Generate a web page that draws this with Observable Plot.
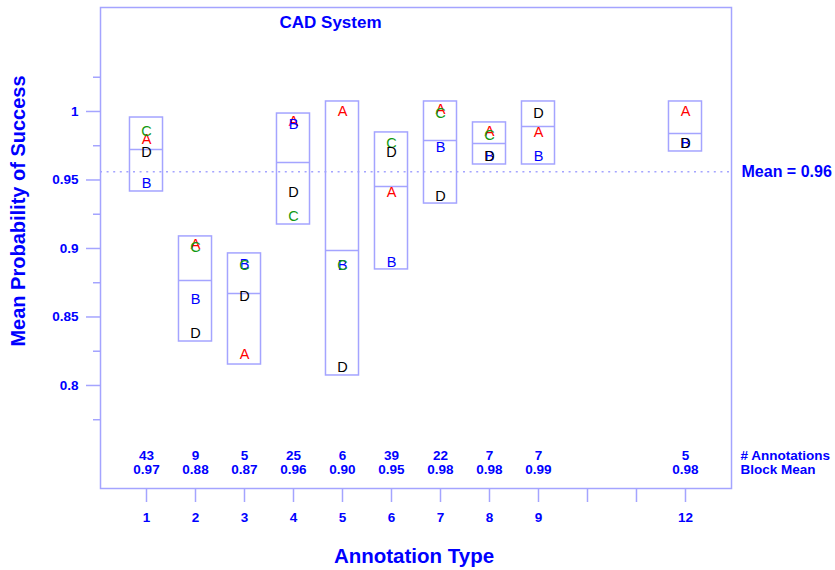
<!DOCTYPE html>
<html>
<head>
<meta charset="utf-8">
<script src="https://cdn.jsdelivr.net/npm/d3@7"></script>
<script src="https://cdn.jsdelivr.net/npm/@observablehq/plot@0.6"></script>
<style>
  body { margin: 0; background: white; }
</style>
</head>
<body>
<div id="chart"></div>
<script>
// ---- data ----
const types = [1, 2, 3, 4, 5, 6, 7, 8, 9, 12];
const counts = [43, 9, 5, 25, 6, 39, 22, 7, 7, 5];
const blockMeans = ["0.97", "0.88", "0.87", "0.96", "0.90", "0.95", "0.98", "0.98", "0.99", "0.98"];
const boxLow  = [0.9416, 0.8321, 0.8153, 0.9175, 0.8073, 0.8847, 0.9328, 0.9613, 0.9613, 0.9708];
const boxHigh = [0.9956, 0.9088, 0.8964, 0.9985, 1.0073, 0.9847, 1.0073, 0.9920, 1.0073, 1.0073];
const boxMid  = [0.9723, 0.8766, 0.8672, 0.9628, 0.8985, 0.9453, 0.9788, 0.9766, 0.9891, 0.9840];
const seriesNames = ["A", "B", "C", "D"];
const seriesA = [0.9796, 0.9029, 0.8226, 0.9927, 1.0000, 0.9409, 1.0015, 0.9854, 0.9847, 1.0000];
const seriesB = [0.9474, 0.8628, 0.8883, 0.9905, 0.8876, 0.8898, 0.9737, 0.9672, 0.9672, 0.9766];
const seriesC = [0.9854, 0.9007, 0.8876, 0.9234, 0.8876, 0.9766, 0.9985, 0.9825, null, null];
const seriesD = [0.9700, 0.8380, 0.8650, 0.9409, 0.8131, 0.9700, 0.9380, 0.9672, 0.9985, 0.9766];
const seriesColors = ["#ff0000", "#0000ff", "#119911", "#000000"];
const overallMean = 0.956;
const meanLabel = "Mean = 0.96";
const xTicks = [1, 2, 3, 4, 5, 6, 7, 8, 9, 10, 11, 12];
const xTickLabels = ["1", "2", "3", "4", "5", "6", "7", "8", "9", "", "", "12"];
const yMajorTicks = [0.8, 0.85, 0.9, 0.95, 1];
const yMajorLabels = ["0.8", "0.85", "0.9", "0.95", "1"];
const yMinorTicks = [0.775, 0.825, 0.875, 0.925, 0.975, 1.025];
const title = "CAD System";
const xLabel = "Annotation Type";
const yLabel = "Mean Probability of Success";
const footLabels = "# Annotations\nBlock Mean";

// ---- derived tables ----
const boxes = types.map((t, i) => ({type: t, lo: boxLow[i], hi: boxHigh[i], mid: boxMid[i],
  foot: `${counts[i]}\n${blockMeans[i]}`}));
const seriesValues = [seriesA, seriesB, seriesC, seriesD];
const letters = [];
seriesNames.forEach((s, k) => types.forEach((t, i) => {
  const v = seriesValues[k][i];
  if (v != null) letters.push({type: t, series: s, value: v});
}));

const LAV = "#a4a4ff";
const BLUE = "#0000ff";
const HW = 0.337;

const chart = Plot.plot({
  width: 835,
  height: 570,
  marginLeft: 100,
  marginRight: 104,
  marginTop: 7,
  marginBottom: 82,
  style: {fontFamily: "'Liberation Sans', Arial, sans-serif", fontSize: "13px", fontWeight: "bold", color: BLUE, background: "white"},
  x: {domain: [0.0612, 12.939], axis: null},
  y: {domain: [0.7248, 1.0759], axis: null},
  color: {domain: seriesNames, range: seriesColors},
  marks: [
    Plot.frame({stroke: LAV, strokeWidth: 1.5}),
    Plot.axisY({ticks: yMajorTicks, tickSize: 14, tickPadding: 8, stroke: LAV, strokeWidth: 1.5, fill: BLUE,
      fontSize: 13.5, fontWeight: "bold", tickFormat: d => yMajorLabels[yMajorTicks.indexOf(d)], label: null}),
    Plot.axisY({ticks: yMinorTicks, tickSize: 7, stroke: LAV, strokeWidth: 1.5, text: null, label: null}),
    Plot.axisX({ticks: xTicks, tickSize: 14, tickPadding: 10, stroke: LAV, strokeWidth: 1.5, fill: BLUE,
      fontSize: 13.5, fontWeight: "bold", tickFormat: d => xTickLabels[xTicks.indexOf(d)], label: null}),
    Plot.ruleY([overallMean], {stroke: LAV, strokeWidth: 1.5, strokeDasharray: "2,4.6"}),
    Plot.rect(boxes, {x1: d => d.type - HW, x2: d => d.type + HW, y1: "lo", y2: "hi", fill: "none", stroke: LAV, strokeWidth: 1.5}),
    Plot.ruleY(boxes, {y: "mid", x1: d => d.type - HW, x2: d => d.type + HW, stroke: LAV, strokeWidth: 1.5}),
    Plot.text(letters, {x: "type", y: "value", text: "series", fill: d => d.series, fontSize: 14.5, fontWeight: "normal", lineAnchor: "middle"}),
    Plot.text(boxes, {x: "type", text: "foot", frameAnchor: "bottom", dy: -38, lineAnchor: "top", lineHeight: 1.0, fill: BLUE, fontSize: 13.5}),
    Plot.text([footLabels], {frameAnchor: "bottom-right", dx: 9, dy: -38, textAnchor: "start", lineAnchor: "top", lineHeight: 1.0, fill: BLUE, fontSize: 13.5}),
    Plot.text([overallMean], {y: d => d, text: [meanLabel], frameAnchor: "right", dx: 10, textAnchor: "start", lineAnchor: "middle", fill: BLUE, fontSize: 16}),
    Plot.text([title], {frameAnchor: "top-left", dx: 230, dy: 15, textAnchor: "middle", lineAnchor: "middle", fill: BLUE, fontSize: 17}),
    Plot.text([xLabel], {frameAnchor: "bottom", dx: -2, dy: 68, textAnchor: "middle", lineAnchor: "middle", fill: BLUE, fontSize: 20.5}),
    Plot.text([yLabel], {frameAnchor: "left", dx: -82, dy: -37, rotate: -90, textAnchor: "middle", lineAnchor: "middle", fill: BLUE, fontSize: 20})
  ]
});
document.getElementById("chart").appendChild(chart);
</script>
</body>
</html>
